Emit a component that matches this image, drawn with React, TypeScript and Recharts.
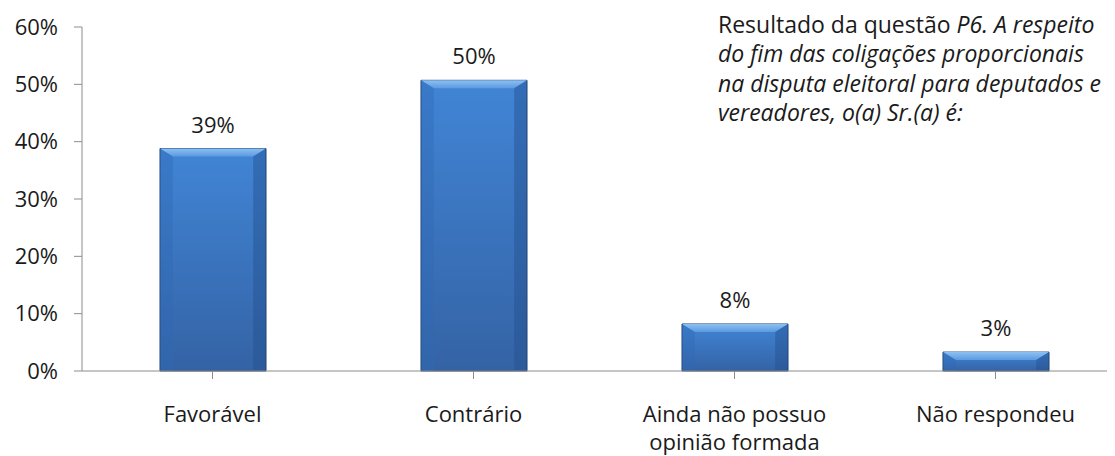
import React from 'react';
import { BarChart, Bar, XAxis, YAxis, LabelList } from 'recharts';

const categories = ['Favorável', 'Contrário', 'Ainda não possuo opinião formada', 'Não respondeu'];
const values = [38.8, 50.7, 8.2, 3.3];
const valueLabels = ['39%', '50%', '8%', '3%'];
const yTicks = [0, 10, 20, 30, 40, 50, 60];

const data = categories.map((name, i) => ({ name, value: values[i], label: valueLabels[i] }));

const FONT = '"Open Sans", sans-serif';
const FS = 22;

// barra com efeito chanfrado, como no original
const BevelBar = (props: any) => {
  const { x, y, width, height } = props;
  if (!height || height <= 0) return null;
  const b = Math.min(8, height / 2);
  const s = b * 1.6;
  return (
    <g>
      <path
        d={`M${x},${y} L${x + width},${y} L${x + width},${y + height} L${x},${y + height} Z`}
        fill="url(#barBody)"
        stroke="#1f3f6e"
        strokeWidth={1}
      />
      <path d={`M${x},${y} L${x + width},${y} L${x + width - s},${y + b} L${x + s},${y + b} Z`} fill="url(#barTop)" />
      <path d={`M${x},${y} L${x + s},${y + b} L${x + s},${y + height} L${x},${y + height} Z`} fill="#2f68b5" opacity={0.4} />
      <path
        d={`M${x + width},${y} L${x + width - s},${y + b} L${x + width - s},${y + height} L${x + width},${y + height} Z`}
        fill="#24508e"
        opacity={0.45}
      />
    </g>
  );
};

const CategoryTick = (props: any) => {
  const { x, y, payload } = props;
  const words = String(payload.value).split(' ');
  const lines: string[] = [];
  let cur = '';
  words.forEach((w) => {
    const next = cur ? cur + ' ' + w : w;
    if (next.length > 18 && cur) {
      lines.push(cur);
      cur = w;
    } else cur = next;
  });
  if (cur) lines.push(cur);
  return (
    <text x={x} y={y + 41} textAnchor="middle" fill="#1a1a1a" fontSize={FS} fontFamily={FONT}>
      {lines.map((l, i) => (
        <tspan key={i} x={x} dy={i === 0 ? 0 : 28}>
          {l}
        </tspan>
      ))}
    </text>
  );
};

export default function App() {
  return (
    <div style={{ position: 'relative', width: 1107, height: 448, overflow: 'hidden', fontFamily: FONT }}>
      <BarChart width={1118} height={448} data={data} margin={{ top: 19, right: 0, bottom: 0, left: 0 }} barSize={106}>
        <defs>
          <linearGradient id="barBody" x1="0" y1="0" x2="0" y2="1">
            <stop offset="0%" stopColor="#4185d6" />
            <stop offset="100%" stopColor="#3463a5" />
          </linearGradient>
          <linearGradient id="barTop" x1="0" y1="0" x2="0" y2="1">
            <stop offset="0%" stopColor="#8cc0f2" />
            <stop offset="100%" stopColor="#5b9ae0" />
          </linearGradient>
        </defs>
        <XAxis dataKey="name" height={85} stroke="#8c8c8c" tickSize={8} tick={<CategoryTick />} interval={0} />
        <YAxis
          width={74}
          domain={[0, 60]}
          ticks={yTicks}
          tickFormatter={(v) => `${v}%`}
          stroke="#8c8c8c"
          tickSize={8}
          tickMargin={16}
          tick={{ fill: '#1a1a1a', fontSize: FS, fontFamily: FONT }}
          interval={0}
        />
        <Bar dataKey="value" shape={<BevelBar />} isAnimationActive={false}>
          <LabelList dataKey="label" position="top" offset={16} fill="#1a1a1a" fontSize={FS} fontFamily={FONT} />
        </Bar>
      </BarChart>
      <div
        style={{
          position: 'absolute',
          left: 710,
          top: 2,
          fontSize: 23,
          lineHeight: '29.3px',
          color: '#1a1a1a',
          whiteSpace: 'nowrap',
        }}
      >
        <div>
          Resultado da questão <i>P6. A respeito</i>
        </div>
        <div>
          <i>do fim das coligações proporcionais</i>
        </div>
        <div>
          <i>na disputa eleitoral para deputados e</i>
        </div>
        <div>
          <i>vereadores, o(a) Sr.(a) é:</i>
        </div>
      </div>
    </div>
  );
}
